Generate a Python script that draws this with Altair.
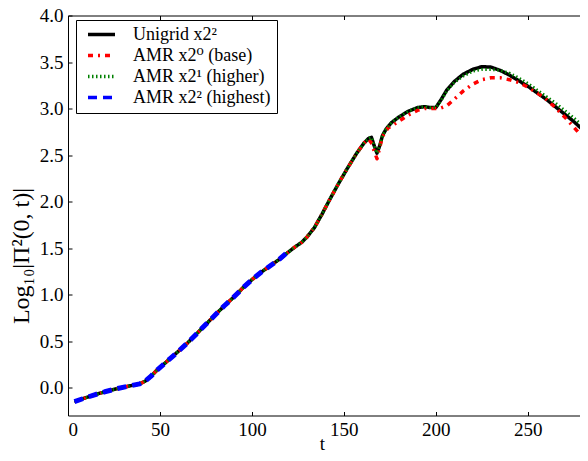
import altair as alt
import pandas as pd

series_names = ["Unigrid x2²", "AMR x2⁰ (base)", "AMR x2¹ (higher)", "AMR x2² (highest)"]
series_colors = ["#000000", "#ff0000", "#008000", "#0000ff"]
series_dashes = [[1, 0], [5, 5, 2, 5], [1.5, 2.5], [9, 6]]
series_widths = [3.5, 3.5, 3, 5]

t_uni = [3.5, 8, 14, 20, 27, 34, 39, 42, 45, 48, 52, 56, 60, 65, 70, 75, 80, 85, 90, 95,
         100, 105, 110, 115, 120, 124, 127, 130, 134, 138, 142, 147, 152, 157, 161, 163.5,
         165, 166.5, 168, 169.5, 171, 173, 176, 180, 185, 190, 194, 197, 200, 203, 206, 210,
         215, 220, 225, 230, 235, 240, 245, 250, 255, 260, 265, 270, 275, 280, 285]
v_uni = [-0.15, -0.12, -0.08, -0.045, -0.01, 0.02, 0.04, 0.07, 0.12, 0.18, 0.25, 0.32, 0.39,
         0.48, 0.58, 0.68, 0.78, 0.88, 0.97, 1.07, 1.16, 1.24, 1.31, 1.38, 1.46, 1.52, 1.56,
         1.62, 1.72, 1.86, 2.01, 2.19, 2.36, 2.52, 2.63, 2.68, 2.69, 2.60, 2.52, 2.60, 2.71,
         2.78, 2.85, 2.91, 2.97, 3.01, 3.02, 3.01, 3.01, 3.10, 3.20, 3.29, 3.37, 3.42, 3.45,
         3.445, 3.41, 3.36, 3.30, 3.24, 3.17, 3.10, 3.02, 2.94, 2.86, 2.77, 2.68]

t_base = [3.5, 8, 14, 20, 27, 34, 39, 42, 45, 48, 52, 56, 60, 65, 70, 75, 80, 85, 90, 95,
          100, 105, 110, 115, 120, 124, 127, 130, 134, 138, 142, 147, 152, 157, 161, 163.5,
          165, 166.5, 168, 169.5, 171, 174, 178, 182, 186, 190, 194, 198, 202, 206, 210,
          215, 220, 225, 230, 235, 240, 245, 250, 255, 260, 265, 270, 275, 280, 285]
v_base = [-0.15, -0.12, -0.08, -0.045, -0.01, 0.02, 0.04, 0.07, 0.12, 0.18, 0.25, 0.32, 0.39,
          0.48, 0.58, 0.68, 0.78, 0.88, 0.97, 1.07, 1.16, 1.24, 1.31, 1.38, 1.46, 1.52, 1.56,
          1.62, 1.72, 1.86, 2.01, 2.19, 2.36, 2.52, 2.63, 2.67, 2.63, 2.54, 2.46, 2.58, 2.70,
          2.79, 2.84, 2.89, 2.94, 2.98, 3.00, 3.00, 3.00, 3.03, 3.10, 3.19, 3.26, 3.31, 3.33,
          3.33, 3.31, 3.28, 3.23, 3.17, 3.10, 3.01, 2.91, 2.80, 2.69, 2.59]

t_higher = [3.5, 8, 14, 20, 27, 34, 39, 42, 45, 48, 52, 56, 60, 65, 70, 75, 80, 85, 90, 95,
            100, 105, 110, 115, 120, 124, 127, 130, 134, 138, 142, 147, 152, 157, 161, 163.5,
            165, 166.5, 168, 169.5, 171, 173, 176, 180, 185, 190, 194, 197, 200, 203, 206, 210,
            215, 220, 225, 230, 235, 240, 245, 250, 255, 260, 265, 270, 275, 280, 285]
v_higher = [-0.15, -0.12, -0.08, -0.045, -0.01, 0.02, 0.04, 0.07, 0.12, 0.18, 0.25, 0.32, 0.39,
            0.48, 0.58, 0.68, 0.78, 0.88, 0.97, 1.07, 1.16, 1.24, 1.31, 1.38, 1.46, 1.52, 1.56,
            1.62, 1.72, 1.86, 2.01, 2.19, 2.36, 2.52, 2.63, 2.68, 2.69, 2.60, 2.52, 2.60, 2.71,
            2.78, 2.85, 2.91, 2.97, 3.01, 3.02, 3.01, 3.01, 3.09, 3.19, 3.28, 3.35, 3.40, 3.42,
            3.42, 3.41, 3.38, 3.33, 3.27, 3.20, 3.13, 3.06, 2.98, 2.90, 2.81, 2.72]

t_highest = [3.5, 8, 14, 20, 27, 34, 39, 42, 45, 48, 52, 56, 60, 65, 70, 75, 80, 85, 90, 95,
             100, 105, 110, 115, 119]
v_highest = [-0.15, -0.12, -0.08, -0.045, -0.01, 0.02, 0.04, 0.07, 0.12, 0.18, 0.25, 0.32, 0.39,
             0.48, 0.58, 0.68, 0.78, 0.88, 0.97, 1.07, 1.16, 1.24, 1.31, 1.38, 1.45]

x_ticks = [0, 50, 100, 150, 200, 250]
y_ticks = [0.0, 0.5, 1.0, 1.5, 2.0, 2.5, 3.0, 3.5, 4.0]
x_title = "t"
y_title = "Log₁₀|Π²(0, t)|"

frames = []
for name, ts, vs in zip(series_names,
                        [t_uni, t_base, t_higher, t_highest],
                        [v_uni, v_base, v_higher, v_highest]):
    frames.append(pd.DataFrame({"t": ts, "v": vs, "series": name}))
df = pd.concat(frames, ignore_index=True)

FONT = "Liberation Serif, DejaVu Serif, serif"
W, H = 512, 400

x_enc = alt.X(
    "t:Q",
    scale=alt.Scale(domain=[0, 278.4], nice=False, zero=False),
    axis=alt.Axis(
        values=x_ticks, format="d", title=x_title,
        grid=True, gridDash=[4, H - 8, 4], gridColor="black", gridWidth=1, gridOpacity=1,
        ticks=False, tickSize=0, domain=False, labelPadding=5,
        titleX=254, titleY=34, titleBaseline="alphabetic", titleAlign="center",
    ),
)
y_enc = alt.Y(
    "v:Q",
    scale=alt.Scale(domain=[-0.3, 4.0], nice=False, zero=False),
    axis=alt.Axis(
        values=y_ticks, format=".1f", title=y_title,
        grid=True, gridDash=[4, 1000], gridColor="black", gridWidth=1, gridOpacity=1,
        ticks=False, tickSize=0, domain=False, labelPadding=5,
        titleX=-40, titleY=240, titleBaseline="alphabetic", titleAlign="center",
        titleFontSize=24,
    ),
)
color_enc = alt.Color(
    "series:N",
    scale=alt.Scale(domain=series_names, range=series_colors),
    title=None,
)
dash_enc = alt.StrokeDash(
    "series:N",
    scale=alt.Scale(domain=series_names, range=series_dashes),
    title=None,
)

layers = []
for name, w in zip(series_names, series_widths):
    layers.append(
        alt.Chart(df)
        .transform_filter(alt.datum.series == name)
        .mark_line(clip=True, strokeWidth=w, strokeCap="butt", strokeJoin="round")
        .encode(x=x_enc, y=y_enc, color=color_enc, strokeDash=dash_enc)
    )

chart = (
    alt.layer(*layers)
    .properties(
        width=W, height=H,
        padding={"left": 60, "top": 7.5, "right": 0, "bottom": 37.5},
        autosize=alt.AutoSizeParams(type="none"),
    )
    .configure_view(stroke="black", strokeWidth=1, strokeDash=[W, H, W + H])
    .configure_axis(
        labelFont=FONT, labelFontSize=19, labelColor="black",
        titleFont=FONT, titleFontSize=19, titleColor="black", titleFontWeight="normal",
    )
    .configure_legend(
        orient="none", legendX=8, legendY=4.5,
        strokeColor="black", fillColor="white", padding=6, cornerRadius=0,
        labelFont=FONT, labelFontSize=18, labelColor="black", labelLimit=0,
        symbolType="stroke", symbolSize=729, symbolStrokeWidth=3.5,
        clipHeight=17, rowPadding=2, symbolOffset=4, labelOffset=16,
    )
)

chart.save("out.html", embed_options={"renderer": "svg", "actions": False})
